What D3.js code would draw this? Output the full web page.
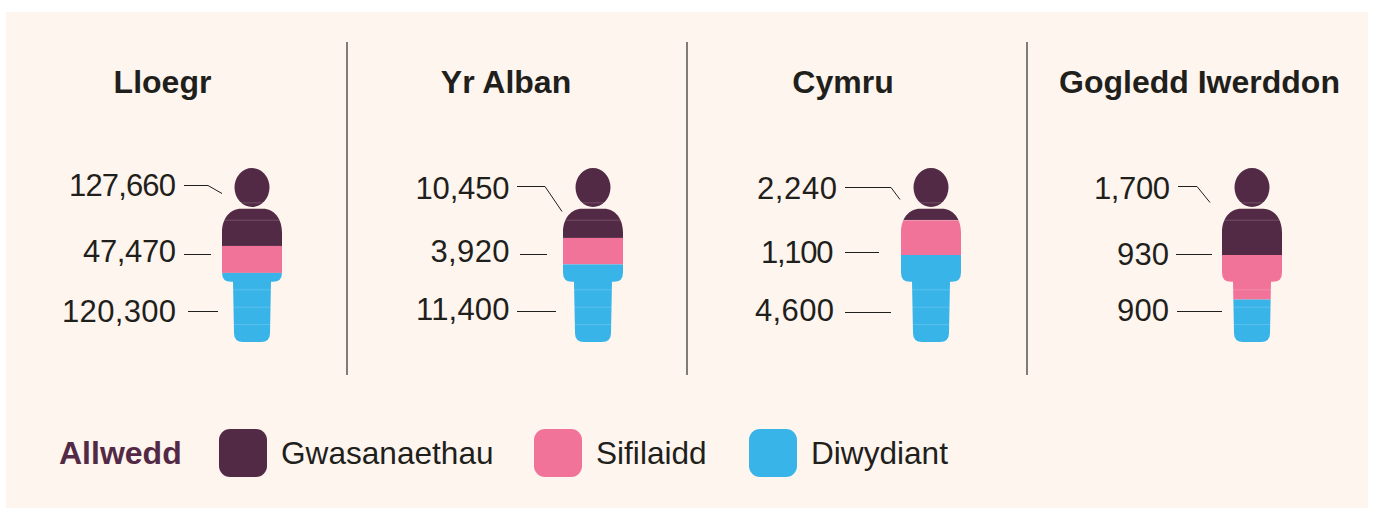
<!DOCTYPE html>
<html>
<head>
<meta charset="utf-8">
<script src="https://cdn.jsdelivr.net/npm/d3@7"></script>
<style>
  html, body { margin: 0; padding: 0; background: #fff; }
  svg { display: block; }
  text { font-family: "Liberation Sans", Arial, sans-serif; fill: #1f1f1c; }
</style>
</head>
<body>
<svg id="chart" width="1375" height="508"></svg>
<script>
const nations = ["Lloegr", "Yr Alban", "Cymru", "Gogledd Iwerddon"];
const sectors = ["Gwasanaethau", "Sifilaidd", "Diwydiant"];

// numbers printed next to each figure
const services = [127660, 10450, 2240, 1700];
const civil = [47470, 3920, 1100, 930];
const industry = [120300, 11400, 4600, 900];

// how much of each figure is filled per band (percent)
const servicesFill = [44.8, 40.2, 30, 50];
const civilFill = [15.5, 15.2, 20, 25.6];
const industryFill = [39.7, 44.6, 50, 24.4];

const colors = ["#532a45", "#f1739a", "#38b4e8"];

// layout
const figureX = [252, 593, 931, 1252];
const titleX = [162.5, 506, 843, 1199.5];
const dividerX = [347, 687, 1027];
const labelRight = [[176, 176, 176], [509.5, 509.5, 509.5], [837, 833.5, 834], [1170, 1169, 1169]];
const labelBase = [[196, 262, 322], [199, 262, 320], [199, 263, 321], [199, 265, 321]];
const labelWidth = [[107, 93, 114], [94, 79, 93.5], [80, 72.5, 79], [76, 52, 52]];
const leaders = [
  [[[184, 185], [208, 185], [222, 193]], [[184, 254], [211, 254]], [[188, 311], [218, 311]]],
  [[[517, 186], [545, 186], [562, 211]], [[520, 254], [547, 254]], [[517, 311], [556, 311]]],
  [[[845, 187], [891, 187], [900, 199]], [[845, 252], [879, 252]], [[845, 312], [891, 312]]],
  [[[1178, 186], [1197, 186], [1210, 202]], [[1176, 254], [1212, 254]], [[1177, 311], [1222, 311]]]
];

const svg = d3.select("#chart");
const fmt = d3.format(",");

svg.append("rect")
  .attr("x", 6).attr("y", 12)
  .attr("width", 1362).attr("height", 496)
  .attr("fill", "#fff5ef");

const y = d3.scaleLinear().domain([0, 100]).range([168, 342]);

// person outline, centred on x=0, drawn on the y scale
const px = t => y(t) - y(0);
const figurePath = [
  `M0,${y(0)}`,
  `A17.5,${px(11.2)} 0 1 1 0,${y(22.4)}`,
  `A17.5,${px(11.2)} 0 1 1 0,${y(0)}Z`,
  `M-11,${y(23.4)}`,
  `L11,${y(23.4)}`,
  `C22,${y(23.4)} 30,${y(29)} 30,${y(37)}`,
  `L30,${y(60)}`,
  `Q30,${y(65.4)} 21,${y(65.4)}`,
  `L19,${y(65.4)}`,
  `L18,${y(95)}`,
  `Q18,${y(100)} 9,${y(100)}`,
  `L-9,${y(100)}`,
  `Q-18,${y(100)} -18,${y(95)}`,
  `L-19,${y(65.4)}`,
  `L-21,${y(65.4)}`,
  `Q-30,${y(65.4)} -30,${y(60)}`,
  `L-30,${y(37)}`,
  `C-30,${y(29)} -22,${y(23.4)} -11,${y(23.4)}Z`
].join("");

svg.append("defs").append("clipPath")
  .attr("id", "person")
  .append("path")
  .attr("d", figurePath);

const rows = nations.map((n, i) => ({
  Gwasanaethau: servicesFill[i],
  Sifilaidd: civilFill[i],
  Diwydiant: industryFill[i]
}));
const stacked = d3.stack().keys(sectors)(rows);

const groups = svg.selectAll(".nation")
  .data(nations)
  .join("g")
  .attr("class", "nation");

groups.append("text")
  .attr("x", (d, i) => titleX[i])
  .attr("y", 93)
  .attr("text-anchor", "middle")
  .attr("font-size", 32)
  .attr("font-weight", "bold")
  .text(d => d);

const figures = groups.append("g")
  .attr("transform", (d, i) => `translate(${figureX[i]},0)`)
  .attr("clip-path", "url(#person)");

figures.each(function(d, i) {
  const g = d3.select(this);
  g.selectAll("rect")
    .data(stacked)
    .join("rect")
    .attr("x", -32)
    .attr("width", 64)
    .attr("y", s => y(s[i][0]))
    .attr("height", s => y(s[i][1]) - y(s[i][0]))
    .attr("fill", (s, k) => colors[k]);
  // faint seams between the ten tiles of the figure
  g.selectAll("line")
    .data([20, 30, 70, 80, 90])
    .join("line")
    .attr("x1", -32).attr("x2", 32)
    .attr("y1", t => y(t)).attr("y2", t => y(t))
    .attr("stroke", "#fff")
    .attr("stroke-opacity", 0.22)
    .attr("stroke-width", 0.8);
});

groups.each(function(d, i) {
  const g = d3.select(this);
  const vals = [services[i], civil[i], industry[i]];
  g.selectAll("text.val")
    .data(vals)
    .join("text")
    .attr("class", "val")
    .attr("x", (v, k) => labelRight[i][k])
    .attr("y", (v, k) => labelBase[i][k])
    .attr("text-anchor", "end")
    .attr("font-size", 31)
    .attr("textLength", (v, k) => labelWidth[i][k])
    .attr("lengthAdjust", "spacing")
    .text(v => fmt(v));
  g.selectAll("path.leader")
    .data(leaders[i])
    .join("path")
    .attr("class", "leader")
    .attr("transform", "translate(0,0.5)")
    .attr("d", d3.line())
    .attr("fill", "none")
    .attr("stroke", "#1f1f1c")
    .attr("stroke-width", 1);
});

svg.selectAll(".divider")
  .data(dividerX)
  .join("line")
  .attr("class", "divider")
  .attr("x1", d => d).attr("x2", d => d)
  .attr("y1", 42).attr("y2", 375)
  .attr("stroke", "#2b2a27")
  .attr("stroke-width", 1.2);

// legend
svg.append("text")
  .attr("x", 59).attr("y", 464)
  .attr("font-size", 32)
  .attr("font-weight", "bold")
  .style("fill", colors[0])
  .text("Allwedd");

const swatchX = [219, 534, 749];
const legend = svg.selectAll(".key")
  .data(sectors)
  .join("g")
  .attr("class", "key")
  .attr("transform", (d, i) => `translate(${swatchX[i]},429)`);
legend.append("rect")
  .attr("width", 48).attr("height", 48)
  .attr("rx", 11)
  .attr("fill", (d, i) => colors[i]);
legend.append("text")
  .attr("x", 62).attr("y", 35)
  .attr("font-size", 31.6)
  .text(d => d);
</script>
</body>
</html>
